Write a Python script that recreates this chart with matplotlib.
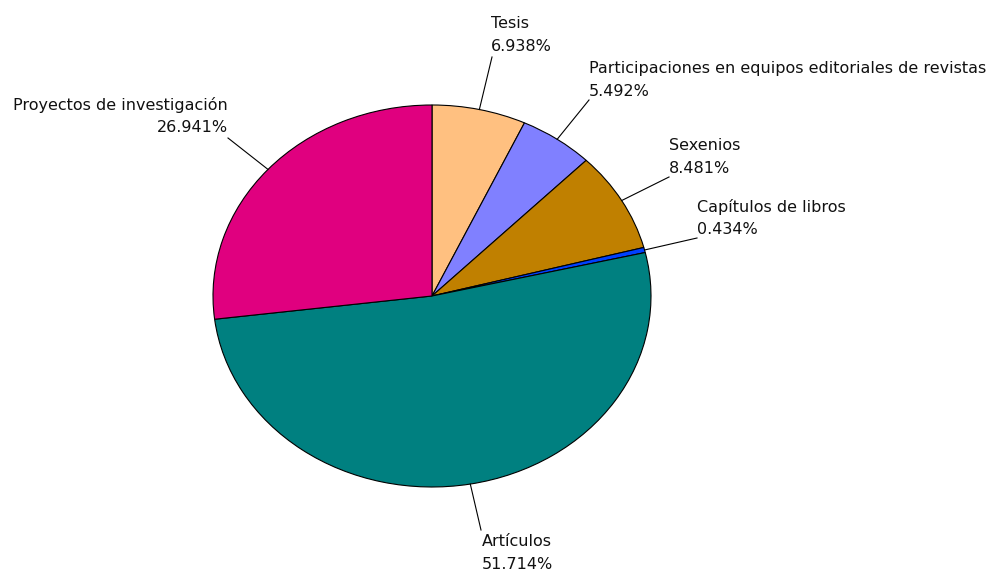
import numpy as np
import matplotlib
matplotlib.use("Agg")
import matplotlib.pyplot as plt

categories = ["Tesis", "Participaciones en equipos editoriales de revistas", "Sexenios",
              "Capítulos de libros", "Artículos", "Proyectos de investigación"]
values = [6.938, 5.492, 8.481, 0.434, 51.714, 26.941]
colors = ["#FFC080", "#8080FF", "#C08000", "#0040FF", "#008080", "#E0007F"]

W, H = 995, 573
cx, cy, rx, ry = 432, 296, 219, 191

fig = plt.figure(figsize=(W / 100, H / 100), dpi=100)
ax = fig.add_axes([(cx - rx) / W, 1 - (cy + ry) / H, 2 * rx / W, 2 * ry / H])
wedges, _ = ax.pie(values, colors=colors, startangle=90, counterclock=False,
                   wedgeprops=dict(edgecolor="black", linewidth=0.8))
ax.set_aspect("auto")
ax.set_xlim(-1, 1)
ax.set_ylim(-1, 1)
ax.axis("off")

def to_data(px, py):
    return (px - cx) / rx, (cy - py) / ry

# label anchor (pixel), alignment
label_pos = [
    (491, 35, "left"),
    (589, 80, "left"),
    (669, 157, "left"),
    (697, 218, "left"),
    (482, 553, "left"),
    (228, 116, "right"),
]
line_end = [(492, 57), (589, 100), (669, 177), (697, 238), (481, 530), (228, 138)]

cum = 0.0
total = sum(values)
for v, cat, (lx, ly, ha), (ex, ey) in zip(values, categories, label_pos, line_end):
    mid = 90 - (cum + v / 2) / total * 360
    cum += v
    a = np.deg2rad(mid)
    x0, y0 = np.cos(a), np.sin(a)
    x1, y1 = to_data(ex, ey)
    ax.plot([x0, x1], [y0, y1], color="black", lw=0.8, clip_on=False)
    tx, ty = to_data(lx, ly)
    ax.text(tx, ty, f"{cat}\n{v:.3f}%", ha=ha, va="center", fontsize=11.5,
            family="DejaVu Sans", color="#111111", linespacing=1.6,
            multialignment=ha, clip_on=False)

fig.savefig("out.png", dpi=100)
